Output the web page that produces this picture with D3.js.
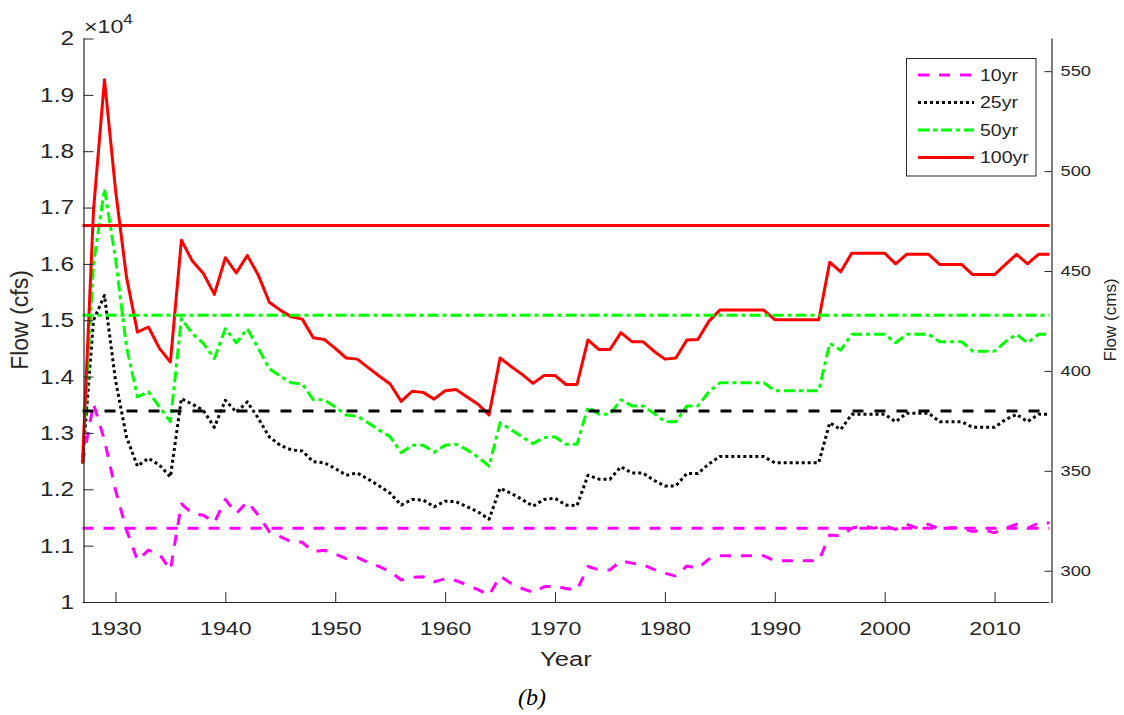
<!DOCTYPE html>
<html><head><meta charset="utf-8">
<script src="https://cdn.jsdelivr.net/npm/d3@7"></script>
<style>
body{margin:0;background:#fff;}
svg text{font-family:"Liberation Sans",Arial,sans-serif;fill:#262626;}
.sx{transform-box:fill-box;}
</style>
</head><body>
<svg id="c" width="1124" height="715"></svg>
<script>
const years=[1927,1928,1929,1930,1931,1932,1933,1934,1935,1936,1937,1938,1939,1940,1941,1942,1943,1944,1945,1946,1947,1948,1949,1950,1951,1952,1953,1954,1955,1956,1957,1958,1959,1960,1961,1962,1963,1964,1965,1966,1967,1968,1969,1970,1971,1972,1973,1974,1975,1976,1977,1978,1979,1980,1981,1982,1983,1984,1985,1986,1987,1988,1989,1990,1991,1992,1993,1994,1995,1996,1997,1998,1999,2000,2001,2002,2003,2004,2005,2006,2007,2008,2009,2010,2011,2012,2013,2014,2015];
const q10=[12460,13520,12870,11990,11280,10740,10920,10850,10570,11740,11570,11540,11410,11820,11570,11780,11540,11250,11160,11070,11060,10890,10920,10850,10770,10790,10700,10630,10540,10390,10440,10450,10360,10410,10380,10300,10220,10120,10460,10330,10240,10170,10270,10280,10240,10210,10630,10570,10570,10730,10690,10660,10580,10510,10460,10640,10600,10760,10820,10820,10820,10820,10820,10730,10730,10730,10730,10730,11190,11170,11310,11350,11310,11350,11290,11380,11310,11380,11290,11320,11310,11250,11280,11230,11310,11380,11310,11400,11400];
const q25=[12460,15000,15440,13940,12930,12410,12550,12430,12220,13610,13510,13400,13100,13580,13370,13550,13260,12930,12780,12700,12680,12490,12470,12370,12250,12290,12180,12060,11930,11720,11820,11810,11690,11790,11780,11690,11600,11470,12020,11930,11820,11700,11820,11840,11720,11710,12250,12180,12180,12400,12290,12290,12160,12060,12060,12280,12280,12450,12580,12580,12580,12580,12580,12470,12470,12470,12470,12470,13180,13060,13330,13330,13330,13330,13200,13350,13350,13350,13200,13200,13200,13100,13100,13100,13240,13330,13200,13330,13330];
const q50=[12460,16000,17330,16100,14530,13640,13730,13460,13200,15030,14760,14590,14320,14850,14600,14850,14500,14140,14010,13890,13870,13590,13590,13460,13320,13300,13180,13050,12930,12650,12780,12780,12660,12780,12800,12700,12570,12410,13180,13060,12930,12810,12920,12930,12800,12800,13460,13330,13330,13590,13480,13480,13350,13200,13200,13480,13480,13730,13890,13890,13890,13890,13890,13750,13750,13750,13750,13750,14590,14470,14750,14750,14750,14750,14600,14750,14750,14750,14620,14620,14620,14450,14450,14450,14620,14750,14600,14750,14750];
const q100=[12460,16950,19270,17320,15770,14790,14880,14500,14260,16420,16050,15830,15460,16110,15840,16150,15800,15320,15180,15060,15020,14690,14660,14500,14330,14310,14160,14010,13870,13560,13740,13720,13600,13750,13770,13640,13510,13320,14330,14180,14040,13880,14020,14020,13860,13860,14650,14480,14480,14780,14620,14620,14450,14310,14330,14650,14660,14980,15180,15180,15180,15180,15180,15010,15010,15010,15010,15010,16030,15860,16190,16190,16190,16190,16000,16170,16170,16170,15990,15990,15990,15810,15810,15810,15990,16170,16000,16170,16170];
const levelNames=["10yr","25yr","50yr","100yr"];
const levels=[11307,13390,15090,16680];
const xTicks=[1930,1940,1950,1960,1970,1980,1990,2000,2010];
const yTicks=[10000,11000,12000,13000,14000,15000,16000,17000,18000,19000,20000];
const yRTicks=[300,350,400,450,500,550];
const cmsDomain=[284.35,566.35];

const series=[q10,q25,q50,q100];
const colors=["#FF00FF","#000000","#00FF00","#FF0000"];
const dashes=["11,10","3,3","11,4,4,4",null];
const levelDashes=["11,10","11,11","11,4,4,4",null];
const SX=1.22;

const svg=d3.select("#c");
svg.append("rect").attr("width",1124).attr("height",715).attr("fill","#fff");
const x=d3.scaleLinear().domain([1927,2015]).range([82.5,1049.5]);
const y=d3.scaleLinear().domain([10000,20000]).range([602,38.5]);
const yR=d3.scaleLinear().domain(cmsDomain).range([602,38.5]);

function stretch(sel,origin){sel.attr("class","sx").style("transform-origin",origin).style("transform","scaleX("+SX+")");}

// series
const line=d3.line().x((d,i)=>x(years[i])).y(d=>y(d));
series.forEach((s,k)=>{
  svg.append("path").datum(s).attr("d",line).attr("fill","none")
    .attr("stroke",colors[k]).attr("stroke-width",3)
    .attr("stroke-dasharray",dashes[k]).attr("stroke-linejoin","round");
});
// reference levels
levels.forEach((v,k)=>{
  svg.append("path").datum([[1927,v],[2015,v]])
    .attr("d",d3.line().x(d=>x(d[0])).y(d=>y(d[1])))
    .attr("stroke",k===1?"#000":colors[k]).attr("stroke-width",3)
    .attr("stroke-dasharray",levelDashes[k]).attr("fill","none");
});

// axes
const gx=svg.append("g").attr("transform","translate(0,602)")
  .call(d3.axisBottom(x).tickValues(xTicks).tickFormat(d3.format("d")).tickSize(-10).tickSizeOuter(0).tickPadding(20));
const gy=svg.append("g").attr("transform","translate(83.5,0)")
  .call(d3.axisLeft(y).tickValues(yTicks).tickFormat(d=>d3.format("~g")(d/1e4)).tickSize(-10).tickSizeOuter(0).tickPadding(9.5));
const gr=svg.append("g").attr("transform","translate(1051.5,0)")
  .call(d3.axisRight(yR).tickValues(yRTicks).tickSize(-7).tickSizeOuter(0).tickPadding(9));
[gx,gy,gr].forEach(g=>{g.selectAll("path,line").attr("stroke","#262626");g.select(".domain").attr("stroke-width",1.2);g.selectAll("text").attr("fill","#262626").style("font-family","Liberation Sans, Arial, sans-serif");});
gx.select(".domain").attr("d","M82.5,0.5H1049");
gy.select(".domain").attr("d","M0.5,38.5V602");
gr.select(".domain").attr("d","M0.5,38.5V603");
gx.selectAll("text").style("font-size","19px"); stretch(gx.selectAll("text"),"center");
gy.selectAll("text").style("font-size","20px"); stretch(gy.selectAll("text"),"right center");
gr.selectAll("text").style("font-size","15px"); stretch(gr.selectAll("text"),"left center");

// exponent
const ex=svg.append("text").attr("x",84).attr("y",33).style("font-size","19px");
ex.append("tspan").text("\u00d710");
ex.append("tspan").attr("dy",-9).style("font-size","14px").text("4");
stretch(ex,"left center");

// axis titles
const xl=svg.append("text").attr("x",566).attr("y",666).attr("text-anchor","middle").style("font-size","21px").text("Year");
stretch(xl,"center");
svg.append("text").attr("transform","translate(28,320) rotate(-90)").attr("text-anchor","middle").style("font-size","23px").text("Flow (cfs)");
svg.append("text").attr("transform","translate(1116,320) rotate(-90)").attr("text-anchor","middle").style("font-size","17px").text("Flow (cms)");
svg.append("text").attr("x",532).attr("y",705).attr("text-anchor","middle")
  .style("font-family","Liberation Serif, Times New Roman, serif").style("font-style","italic").style("font-size","24px").style("fill","#000").text("(b)");

// legend
const lg=svg.append("g");
lg.append("rect").attr("x",906.5).attr("y",58.5).attr("width",129.5).attr("height",117.5).attr("fill","#fff").attr("stroke","#262626").attr("stroke-width",1);
levelNames.forEach((n,k)=>{
  const yy=75+k*27.5;
  lg.append("line").attr("x1",918).attr("x2",974).attr("y1",yy).attr("y2",yy)
    .attr("stroke",colors[k]).attr("stroke-width",3).attr("stroke-dasharray",dashes[k]);
  const t=lg.append("text").attr("x",980).attr("y",yy).attr("dy","0.36em").style("font-size","16px").text(n);
  stretch(t,"left center");
});
</script>
</body></html>
